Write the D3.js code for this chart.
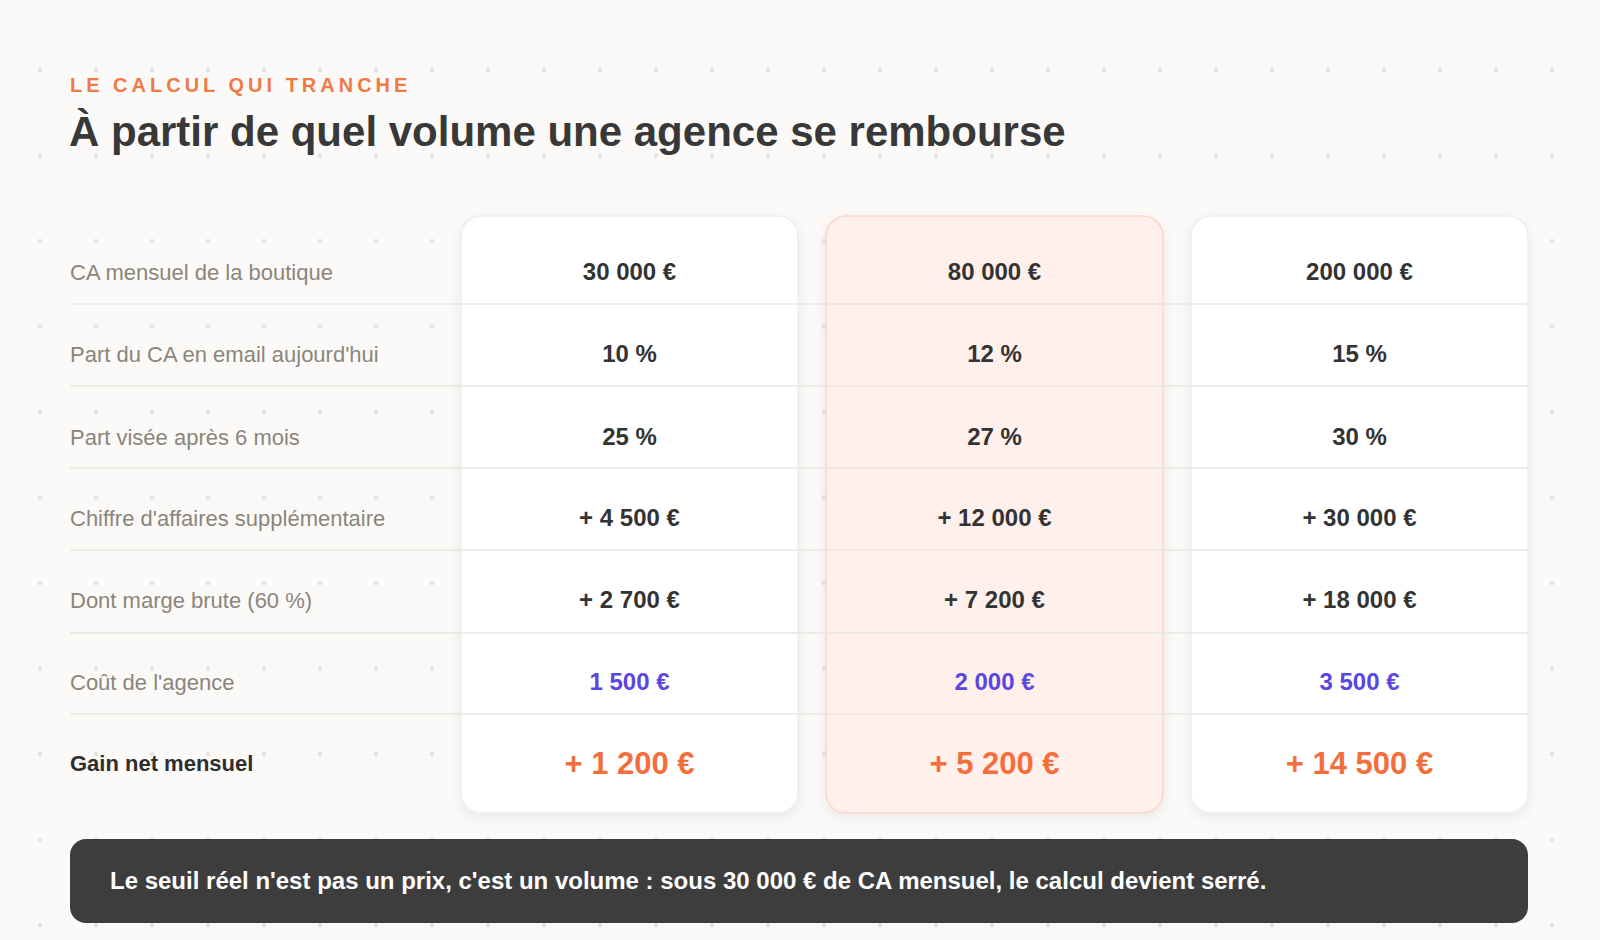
<!DOCTYPE html>
<html><head><meta charset="utf-8">
<script src="https://cdn.jsdelivr.net/npm/d3@7"></script>
<style>
  body { margin: 0; background: #fbfaf8; }
  svg { display: block; font-family: "Liberation Sans", Arial, sans-serif; }
</style></head>
<body>
<script>
const rowLabels = ['CA mensuel de la boutique', "Part du CA en email aujourd'hui", 'Part visée après 6 mois',
  "Chiffre d'affaires supplémentaire", 'Dont marge brute (60 %)', "Coût de l'agence", 'Gain net mensuel']
const scenarios = ['petite', 'moyenne', 'grande']
const caMensuel = ['30 000 €', '80 000 €', '200 000 €']
const partAujourdhui = ['10 %', '12 %', '15 %']
const partVisee = ['25 %', '27 %', '30 %']
const caSupp = ['+ 4 500 €', '+ 12 000 €', '+ 30 000 €']
const margeBrute = ['+ 2 700 €', '+ 7 200 €', '+ 18 000 €']
const coutAgence = ['1 500 €', '2 000 €', '3 500 €']
const gainNet = ['+ 1 200 €', '+ 5 200 €', '+ 14 500 €']
const rows = [caMensuel, partAujourdhui, partVisee, caSupp, margeBrute, coutAgence, gainNet]

const W = 1600, H = 940
const svg = d3.select('body').append('svg').attr('width', W).attr('height', H)

// dotted background
const defs = svg.append('defs')
defs.append('pattern').attr('id', 'dots').attr('patternUnits', 'userSpaceOnUse')
  .attr('x', 12).attr('y', 42).attr('width', 56).attr('height', 85.5)
  .append('circle').attr('cx', 28).attr('cy', 28).attr('r', 2.2).attr('fill', '#e6e3de')
svg.append('rect').attr('width', W).attr('height', H).attr('fill', '#fbfaf8')
svg.append('rect').attr('width', W).attr('height', H).attr('fill', 'url(#dots)')

const shadow = defs.append('filter').attr('id', 'shadow').attr('x', '-10%').attr('y', '-10%').attr('width', '120%').attr('height', '120%')
shadow.append('feDropShadow').attr('dx', 0).attr('dy', 4).attr('stdDeviation', 6).attr('flood-color', '#000').attr('flood-opacity', 0.07)

svg.append('text').attr('x', 70).attr('y', 92).text('LE CALCUL QUI TRANCHE')
  .attr('fill', '#f07a45').attr('font-size', 20).attr('font-weight', 700).attr('letter-spacing', 4)
svg.append('text').attr('x', 69).attr('y', 146).text('À partir de quel volume une agence se rembourse')
  .attr('fill', '#383838').attr('font-size', 42).attr('font-weight', 700)

// scales
const x = d3.scaleBand().domain(scenarios).range([461, 1555]).paddingInner(0.0255).paddingOuter(0)
  .align(0)
const cardW = 337
const colX = d => 461 + scenarios.indexOf(d) * 365
const rowY = d3.scaleBand().domain(d3.range(rows.length)).range([222, 796]).padding(0)
const cardTop = 216, cardBottom = 813

// cards
svg.selectAll('rect.card').data(scenarios).join('rect')
  .attr('x', d => colX(d)).attr('y', cardTop).attr('width', cardW).attr('height', cardBottom - cardTop)
  .attr('rx', 20).attr('filter', 'url(#shadow)')
  .attr('fill', (d, i) => i === 1 ? '#fff0eb' : '#fff')
  .attr('stroke', (d, i) => i === 1 ? '#fcd6c6' : '#f0eeea').attr('stroke-width', 1.5)

// row separators
const seps = [304, 386, 468, 550, 633, 714]
svg.selectAll('line.sep').data(seps).join('line')
  .attr('x1', 70).attr('x2', 1528).attr('y1', d => d).attr('y2', d => d)
  .attr('stroke', '#e8e6e1').attr('stroke-width', 1.5)

const centers = [272, 354, 437, 518, 600, 682, 763]

svg.selectAll('text.label').data(rowLabels).join('text')
  .attr('x', 70).attr('y', (d, i) => centers[i]).attr('dy', '0.35em').text(d => d)
  .attr('font-size', 22).attr('fill', (d, i) => i === 6 ? '#2e2e2e' : '#8b857b')
  .attr('font-weight', (d, i) => i === 6 ? 700 : 400)

rows.forEach((vals, r) => {
  svg.selectAll('text.v' + r).data(vals).join('text')
    .attr('x', (d, i) => colX(scenarios[i]) + cardW / 2).attr('y', centers[r]).attr('dy', '0.35em')
    .attr('text-anchor', 'middle').text(d => d).attr('font-weight', 700)
    .attr('font-size', r === 6 ? 31 : 24)
    .attr('fill', r === 6 ? '#f26f3c' : r === 5 ? '#5a46e0' : '#333')
})

// footer
svg.append('rect').attr('x', 70).attr('y', 839).attr('width', 1458).attr('height', 84).attr('rx', 16).attr('fill', '#3d3d3d')
svg.append('text').attr('x', 110).attr('y', 881).attr('dy', '0.35em')
  .text("Le seuil réel n'est pas un prix, c'est un volume : sous 30 000 € de CA mensuel, le calcul devient serré.")
  .attr('fill', '#fff').attr('font-size', 24).attr('font-weight', 700)
</script>
</body></html>
